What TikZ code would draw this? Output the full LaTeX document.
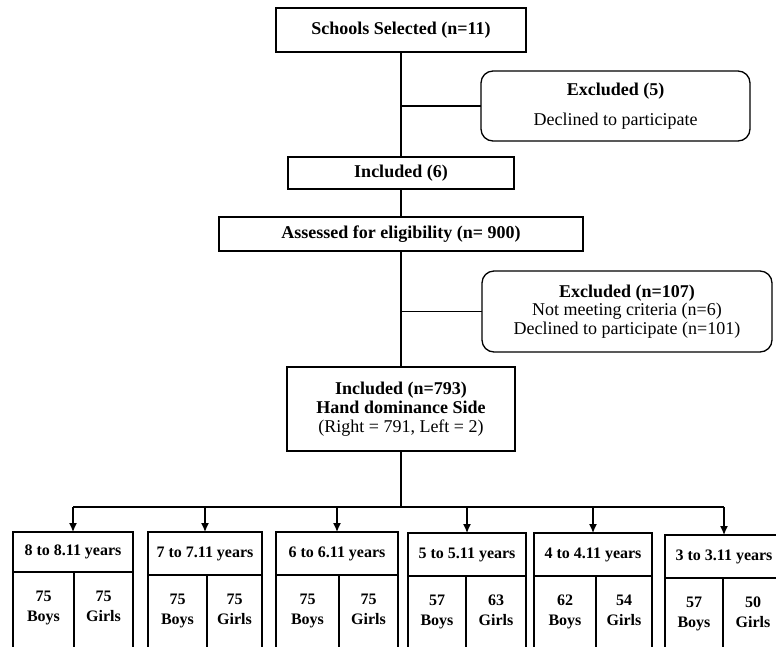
\documentclass[tikz,border=0pt]{standalone}
\usepackage{fontspec}
\setmainfont{Liberation Serif}
\usepackage{tikz}
\usetikzlibrary{arrows,arrows.meta,shapes,positioning}
\tikzstyle{stage} = [rectangle, draw, line width=1.3pt, outer sep=0pt, inner sep=0pt, align=center, font=\fontsize{18}{19}\selectfont\bfseries]
\tikzstyle{excluded} = [stage, rounded corners=12pt, font=\fontsize{18}{18.5}\selectfont]
\tikzstyle{agebox} = [rectangle, draw, line width=1.3pt, outer sep=0pt, inner sep=0pt, align=center, minimum height=43pt, font=\fontsize{16}{20}\selectfont\bfseries]
\tikzstyle{countbox} = [agebox, minimum height=80pt, text depth=12pt]
\tikzstyle{line} = [line width=1.3pt]
\tikzstyle{arrow} = [line width=1.3pt,-{Latex[length=9pt,width=8pt]}]

\begin{document}
\begin{tikzpicture}[x=1pt, y=-1pt]
\useasboundingbox (0,0) rectangle (776,646);
\clip (0,0) rectangle (776,646);

% Main flow
\node[stage, minimum width=250pt, minimum height=44pt] (schools) at (401,30) {Schools Selected (n=11)};
\node[stage, minimum width=226pt, minimum height=32pt, below=105pt of schools] (inc6) {Included (6)};
\node[stage, minimum width=364pt, minimum height=34pt, below=28pt of inc6] (assessed) {Assessed for eligibility (n= 900)};
\node[stage, minimum width=228pt, minimum height=84pt, below=116pt of assessed] (inc793) {
Included (n=793)\\
Hand dominance Side\\
\normalfont (Right = 791, Left = 2)
};

% Exclusions
\node[excluded, minimum width=269pt, minimum height=70pt] (excl5) at (615.5,106) {
\textbf{Excluded (5)}\\[11pt]
Declined to participate
};
\node[excluded, minimum width=290pt, minimum height=81pt] (excl107) at (627,311.5) {
\textbf{Excluded (n=107)}\\
Not meeting criteria (n=6)\\
Declined to participate (n=101)
};

\draw[line] (schools) -- (inc6);
\draw[line] (inc6) -- (assessed);
\draw[line] (assessed) -- (inc793);
\draw[line] (excl5.west) -- (excl5.west -| schools);
\draw[line] (excl107.west) -- (excl107.west -| assessed);

% Age groups
\node[agebox, minimum width=120pt, minimum height=40pt, anchor=north west] (age8) at (13,532) {8 to 8.11 years};
\node[countbox, minimum width=61pt, below right=0pt and 0pt of age8.south west] (boys8) {75\\Boys};
\node[countbox, minimum width=59pt, right=0pt of boys8] (girls8) {75\\Girls};

\node[agebox, minimum width=114pt, anchor=north west] (age7) at (148,532) {7 to 7.11 years};
\node[countbox, minimum width=59pt, below right=0pt and 0pt of age7.south west] (boys7) {75\\Boys};
\node[countbox, minimum width=55pt, right=0pt of boys7] (girls7) {75\\Girls};

\node[agebox, minimum width=122pt, anchor=north west] (age6) at (276,532) {6 to 6.11 years};
\node[countbox, minimum width=63pt, below right=0pt and 0pt of age6.south west] (boys6) {75\\Boys};
\node[countbox, minimum width=59pt, right=0pt of boys6] (girls6) {75\\Girls};

\node[agebox, minimum width=118pt, anchor=north west] (age5) at (408,533) {5 to 5.11 years};
\node[countbox, minimum width=58pt, below right=0pt and 0pt of age5.south west] (boys5) {57\\Boys};
\node[countbox, minimum width=60pt, right=0pt of boys5] (girls5) {63\\Girls};

\node[agebox, minimum width=118pt, anchor=north west] (age4) at (534,533) {4 to 4.11 years};
\node[countbox, minimum width=62pt, below right=0pt and 0pt of age4.south west] (boys4) {62\\Boys};
\node[countbox, minimum width=56pt, right=0pt of boys4] (girls4) {54\\Girls};

\node[agebox, minimum width=118pt, anchor=north west] (age3) at (665,535) {3 to 3.11 years};
\node[countbox, minimum width=58pt, below right=0pt and 0pt of age3.south west] (boys3) {57\\Boys};
\node[countbox, minimum width=60pt, right=0pt of boys3] (girls3) {50\\Girls};

% Branches
\coordinate (split) at (401,507);
\draw[line] (inc793) -- (split);
\draw[line] (split -| age8) -- (split -| age3);
\draw[arrow] (split -| age8) -- (age8);
\draw[arrow] (split -| age7) -- (age7);
\draw[arrow] (split -| age6) -- (age6);
\draw[arrow] (split -| age5) -- (age5);
\draw[arrow] (split -| age4) -- (age4);
\draw[arrow] (split -| age3) -- (age3);
\end{tikzpicture}
\end{document}
